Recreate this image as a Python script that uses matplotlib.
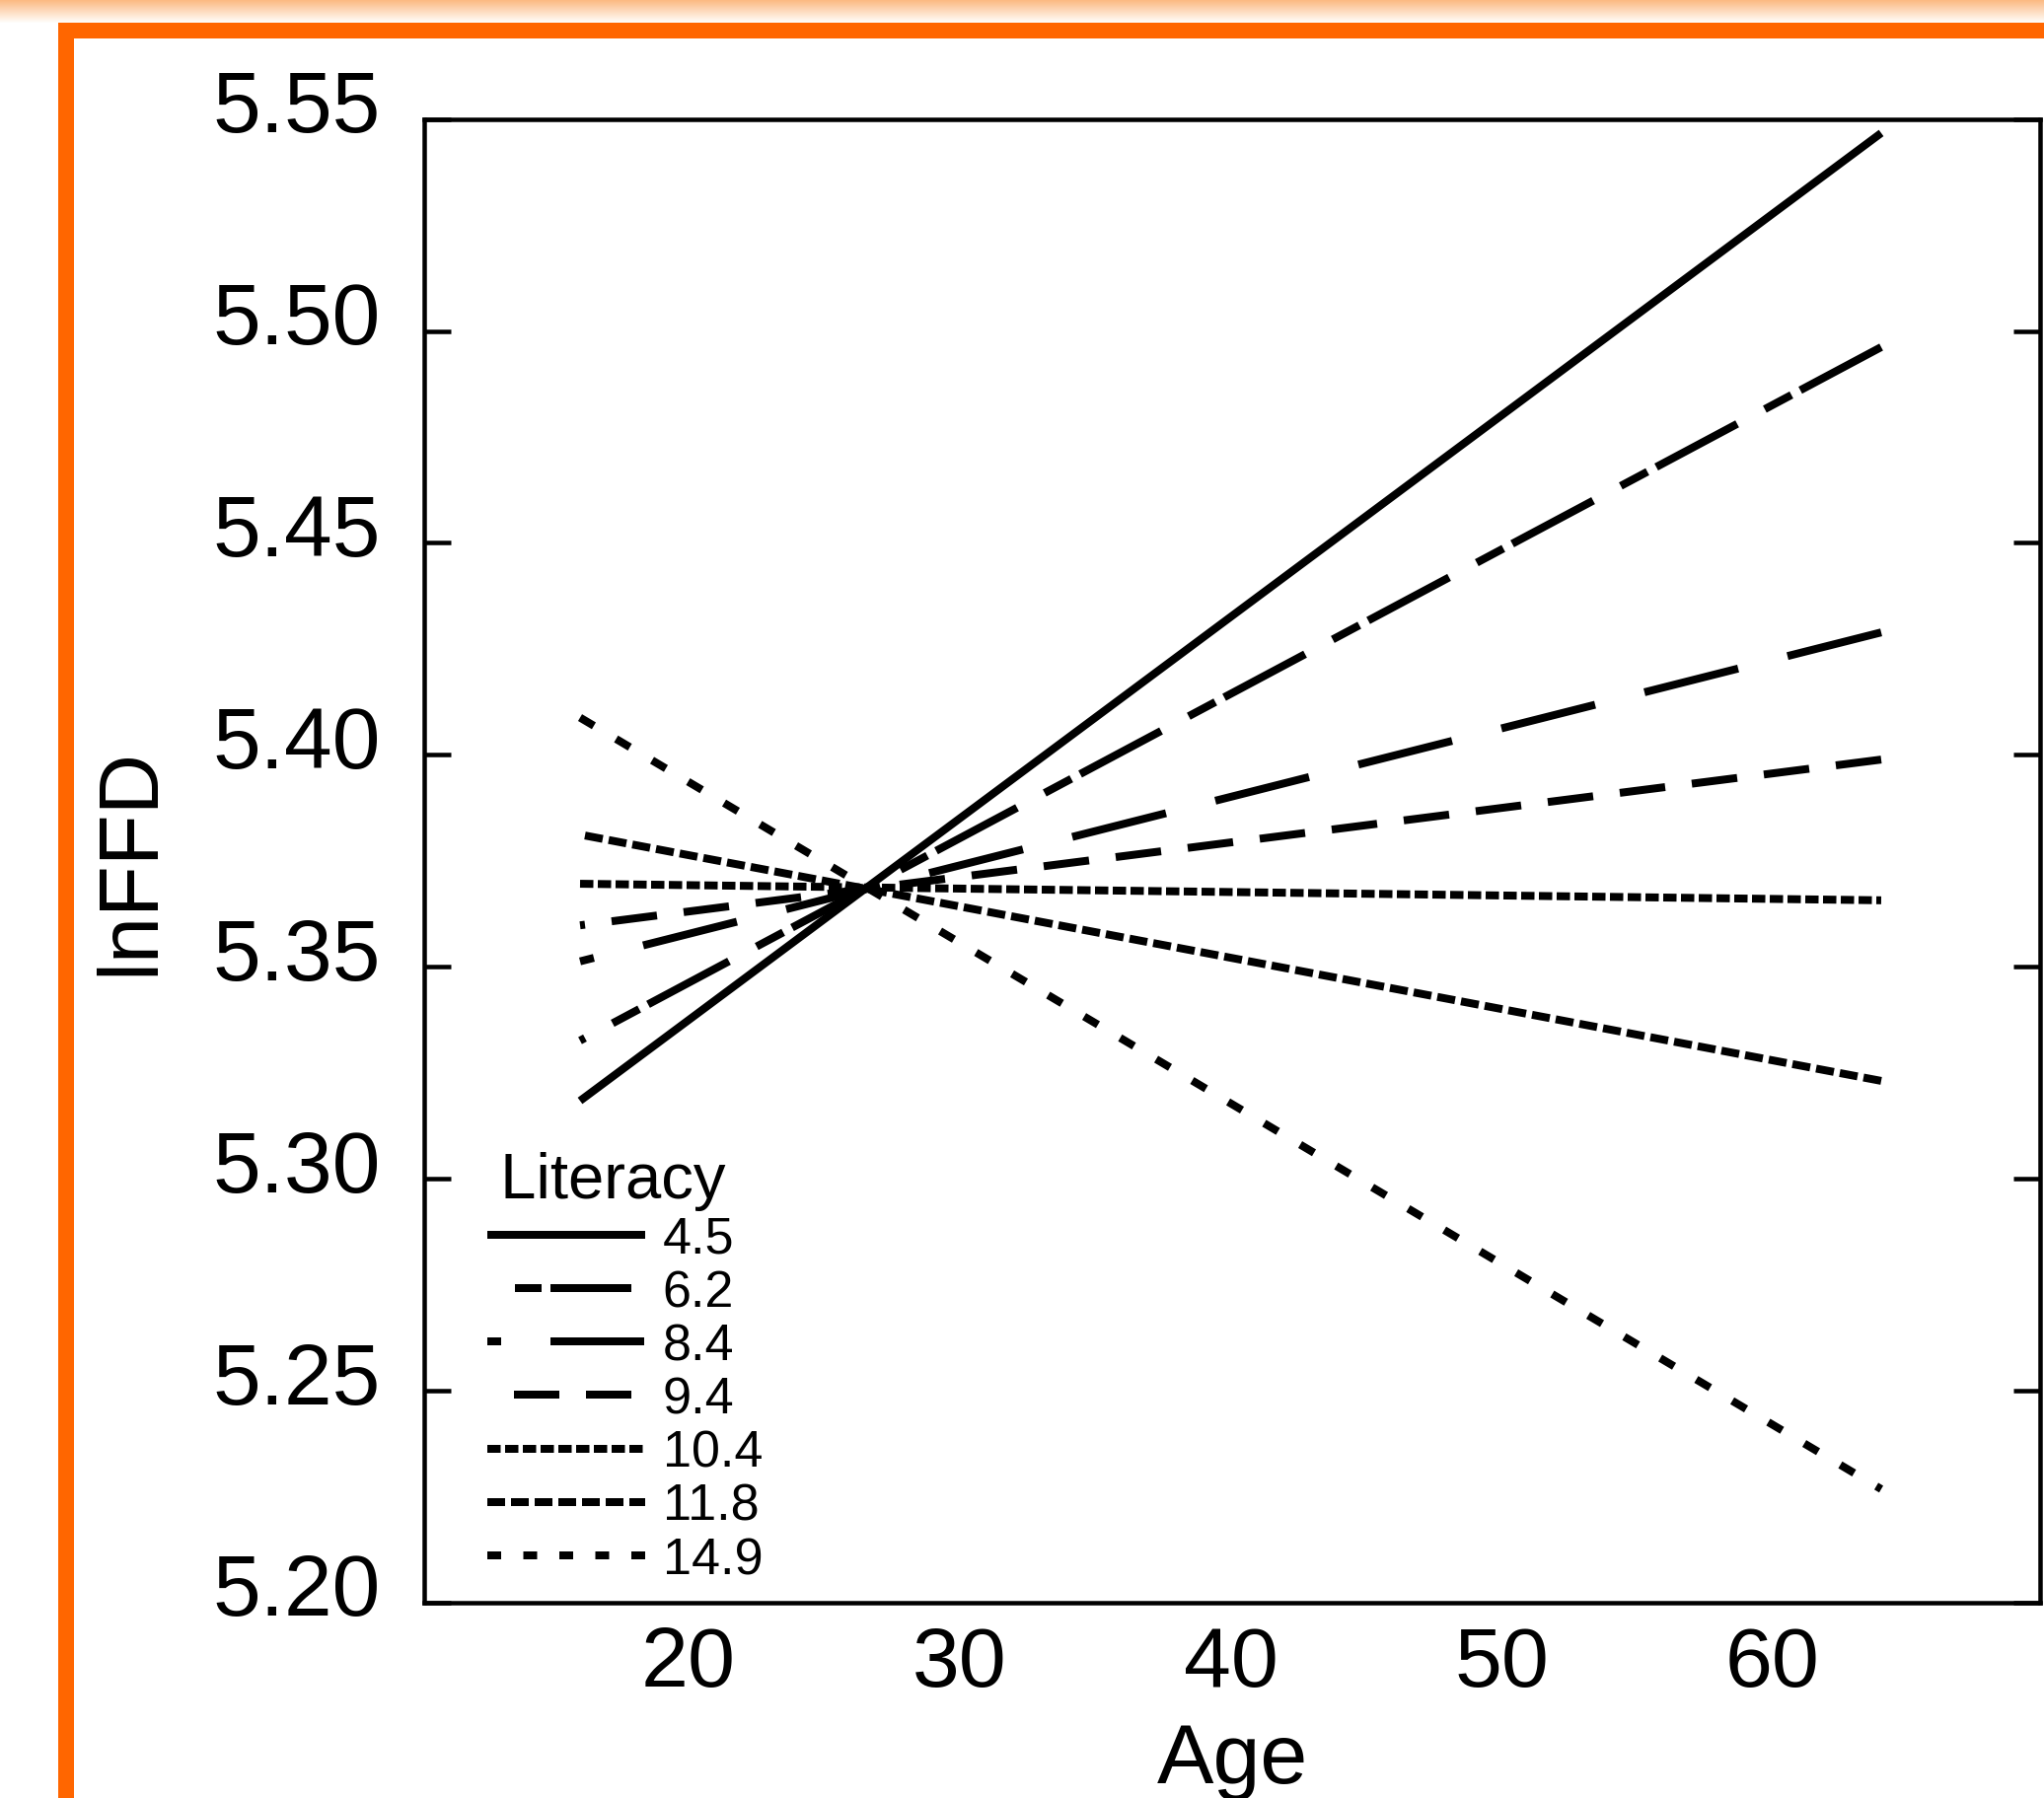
import numpy as np
import matplotlib
matplotlib.use('Agg')
import matplotlib.pyplot as plt
from matplotlib.lines import Line2D
from matplotlib.patches import Rectangle
from matplotlib.transforms import ScaledTranslation

# ---------------- data ----------------
literacy_levels = ['4.5', '6.2', '8.4', '9.4', '10.4', '11.8', '14.9']
age_range = [16, 64]
lnffd_age16 = [5.3184, 5.3326, 5.3513, 5.3598, 5.3696, 5.3812, 5.4088]
lnffd_age64 = [5.5467, 5.4962, 5.4289, 5.3989, 5.3657, 5.3231, 5.2268]
x_ticks = [20, 30, 40, 50, 60]
y_ticks = [5.20, 5.25, 5.30, 5.35, 5.40, 5.45, 5.50, 5.55]

# ---------------- styles ----------------
DPI = 100
W, H = 2072, 1824


def px(v):
    return v * 72.0 / DPI


# dash patterns in pixels (on, off, ...) measured horizontally; None = solid
dash_px = [None, (82, 9, 27, 28), (95, 50), (46, 27), (13.5, 4.5), (18, 6), (14, 22.5)]
legend_dash_px = [None, (27, 9, 82, 28), (95, 50), (46, 27), (13.5, 4.5), (18, 6), (14, 22.5)]
legend_offset_px = [0, 118, 81, 46, 0, 0, 0]
draw_from_right = [True, True, True, True, False, True, False]
LW = px(8)

plt.rcParams['font.family'] = ['Liberation Sans', 'DejaVu Sans']
plt.rcParams['lines.scale_dashes'] = False

fig = plt.figure(figsize=(W / DPI, H / DPI), dpi=DPI)
fig.patch.set_facecolor('white')

# top gradient band
gh = 25
grad_ax = fig.add_axes([0, 1 - gh / H, 1, gh / H])
g = np.linspace(0, 1, gh)[:, None, None]
top_col = np.array([252, 184, 126]) / 255.0
img = top_col[None, None, :] * (1 - g) + g
grad_ax.imshow(img, aspect='auto', extent=[0, 1, 0, 1])
grad_ax.set_axis_off()

# orange frame
orange = '#FF6600'
fig.add_artist(Rectangle((59 / W, 0), 16 / W, (H - 24) / H, transform=fig.transFigure,
                         facecolor=orange, edgecolor='none'))
fig.add_artist(Rectangle((59 / W, 1 - 40 / H), (W - 59) / W, 16 / H, transform=fig.transFigure,
                         facecolor=orange, edgecolor='none'))

# main axes
ax_left, ax_right, ax_top, ax_bottom = 430, 2068, 121.7, 1626
ax = fig.add_axes([ax_left / W, 1 - ax_bottom / H, (ax_right - ax_left) / W, (ax_bottom - ax_top) / H])
ax.set_xlim(10.25, 69.86)
ax.set_ylim(5.20, 5.55)

for i, lab in enumerate(literacy_levels):
    xs = list(age_range)
    ys = [lnffd_age16[i], lnffd_age64[i]]
    if draw_from_right[i]:
        xs, ys = xs[::-1], ys[::-1]
    line, = ax.plot(xs, ys, color='black', lw=LW, solid_capstyle='butt',
                    dash_capstyle='butt', zorder=3)
    if dash_px[i] is not None:
        d = ax.transData.transform(np.column_stack([xs, ys]))
        dx, dy = d[1] - d[0]
        factor = np.hypot(dx, dy) / abs(dx)
        line.set_linestyle((0, [px(v) * factor for v in dash_px[i]]))

# ticks
ax.set_xticks(x_ticks)
ax.set_xticklabels([str(t) for t in x_ticks])
ax.set_yticks(y_ticks)
ax.set_yticklabels([f'{t:.2f}' for t in y_ticks])
ax.tick_params(axis='y', direction='in', length=px(27), width=px(4.5), labelsize=63,
               pad=px(44), left=True, right=True)
ax.tick_params(axis='x', length=0, labelsize=62, pad=px(22))
for s in ax.spines.values():
    s.set_linewidth(px(4.5))

shift = ScaledTranslation(0, 19 / DPI, fig.dpi_scale_trans)
for tk in ax.yaxis.get_major_ticks():
    tk.label1.set_transform(tk.label1.get_transform() + shift)

ax.set_xlabel('Age', fontsize=62)
ax.xaxis.set_label_coords(0.5, -0.0798)
ax.set_ylabel('lnFFD', fontsize=61)
ax.yaxis.set_label_coords(-0.157, 0.5)

# legend
handles = []
for i in range(len(literacy_levels)):
    if legend_dash_px[i] is None:
        ls = '-'
    else:
        ls = (px(legend_offset_px[i]), [px(v) for v in legend_dash_px[i]])
    handles.append(Line2D([], [], color='black', lw=LW, linestyle=ls,
                          solid_capstyle='butt', dash_capstyle='butt'))
fs = 37.5
fs_px = fs / 72 * DPI
leg = ax.legend(handles, literacy_levels, title='\u2009Literacy', loc='lower left',
                bbox_to_anchor=(0.0342, 0.0073), frameon=False, fontsize=fs,
                title_fontsize=47, handlelength=160 / fs_px, handletextpad=18 / fs_px,
                labelspacing=0.1, borderpad=0.15, borderaxespad=0, alignment='left')

fig.savefig('out.png', dpi=DPI, facecolor='white')
